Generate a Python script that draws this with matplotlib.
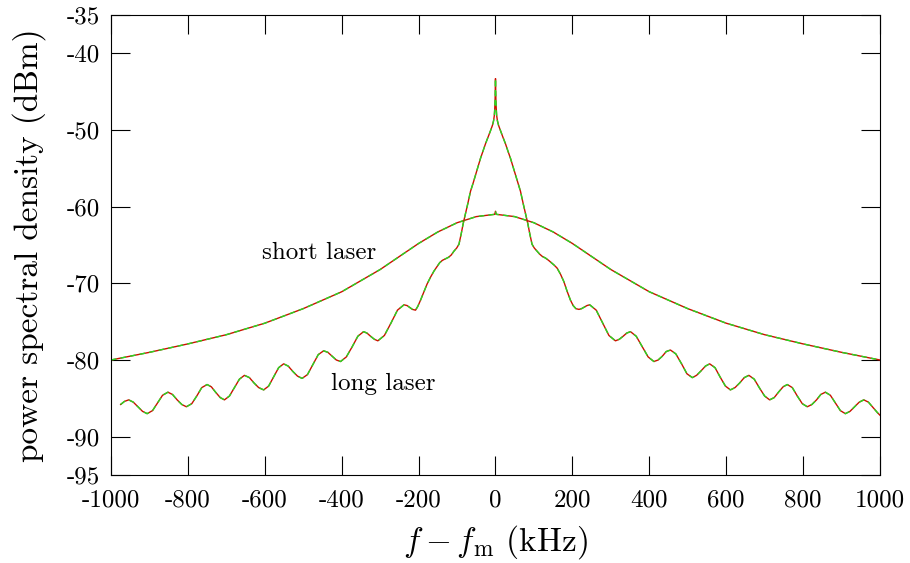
import matplotlib
matplotlib.use("Agg")
import matplotlib.pyplot as plt

plt.rcParams['font.family'] = ['cmr10', 'DejaVu Serif']
plt.rcParams['mathtext.fontset'] = 'cm'
plt.rcParams['axes.unicode_minus'] = False

# short laser: broad spectrum
short_x = [-1000, -900, -800, -700, -600, -500, -400, -300, -250, -200, -150, -100, -50, -2, 0,
           2, 50, 100, 150, 200, 250, 300, 400, 500, 600, 700, 800, 900, 1000]
short_y = [-80.0, -79.0, -77.9, -76.7, -75.2, -73.3, -71.1, -68.2, -66.5, -64.8, -63.3, -62.1, -61.3, -61.0, -60.6,
           -61.0, -61.3, -62.1, -63.3, -64.8, -66.5, -68.2, -71.1, -73.3, -75.2, -76.7, -77.9, -79.0, -80.0]

# long laser: narrow peak with side lobes (left half, centre, right half)
long_left_x = [-975, -965, -954, -942, -930, -918, -906, -892, -879, -866, -852, -840, -828, -816,
               -804, -790, -777, -764, -750, -739, -728, -716, -705, -692, -679, -666, -653, -640,
               -628, -616, -603, -590, -577, -564, -551, -539, -527, -515, -503, -489, -475, -461,
               -447, -436, -425, -414, -403, -388, -373, -358, -343, -334, -325, -315, -306, -289,
               -272, -255, -238, -230, -223, -216, -208, -202, -195, -186, -178, -169, -160, -152,
               -145, -138, -130, -122, -115, -108, -101, -95, -89, -84, -78, -72, -65, -58, -52,
               -45, -39, -32, -26, -19, -13, -8, -5, -3, -2, -1, -0.5]
long_left_y = [-85.8, -85.4, -85.2, -85.5, -86.1, -86.7, -87.0, -86.6, -85.6, -84.6, -84.2, -84.5, -85.2, -85.8,
               -86.1, -85.7, -84.7, -83.6, -83.2, -83.5, -84.2, -84.9, -85.2, -84.7, -83.6, -82.5, -82.0, -82.3,
               -83.0, -83.6, -83.9, -83.4, -82.2, -81.0, -80.5, -80.8, -81.5, -82.1, -82.4, -81.9, -80.6, -79.3,
               -78.8, -79.0, -79.5, -80.0, -80.2, -79.6, -78.3, -76.9, -76.3, -76.5, -76.9, -77.3, -77.5, -76.8,
               -75.2, -73.5, -72.8, -72.9, -73.15, -73.4, -73.5, -73.0, -72.2, -71.1, -70.1, -69.2, -68.4, -67.8,
               -67.3, -67.0, -66.8, -66.6, -66.3, -65.8, -65.4, -64.9, -63.5, -62.2, -60.9, -59.6, -58.0, -56.9, -55.9,
               -54.7, -53.7, -52.7, -51.8, -50.9, -50.1, -49.4, -48.8, -48.1, -47.3, -46.0, -44.8]
long_peak_x = [0]
long_peak_y = [-43.3]
long_right_x = [0.5, 1, 2, 3, 5, 8, 13, 19, 26, 32, 39, 45, 52, 58, 65, 72, 78, 84, 89, 95,
                101, 108, 115, 122, 130, 138, 145, 152, 160, 169, 178, 186, 195, 202, 209, 217,
                224, 231, 238, 245, 262, 279, 295, 312, 322, 332, 341, 351, 366, 382, 397, 412,
                423, 434, 444, 455, 469, 484, 498, 512, 523, 535, 546, 557, 571, 584, 598, 611,
                623, 635, 647, 659, 673, 686, 700, 713, 725, 736, 748, 759, 772, 785, 798, 811,
                823, 835, 846, 858, 871, 884, 897, 910, 922, 934, 946, 958, 970, 982, 994, 1000]
long_right_y = [-44.8, -46.0, -47.3, -48.1, -48.8, -49.4, -50.1, -50.9, -51.8, -52.7, -53.7, -54.7, -55.9, -56.9,
                -58.0, -59.6, -60.9, -62.2, -63.5, -64.9,
                -65.4, -65.8, -66.2, -66.5, -66.7, -67.0, -67.3, -67.6, -68.0, -68.8, -69.8, -71.0, -72.2, -72.9,
                -73.3, -73.4,
                -73.3, -73.1, -72.9, -72.8, -73.5, -75.2, -76.8, -77.5, -77.3, -76.9, -76.5, -76.3, -76.9, -78.3,
                -79.6, -80.2,
                -80.0, -79.5, -78.9, -78.7, -79.2, -80.5, -81.8, -82.3, -82.0, -81.4, -80.8, -80.5, -81.0, -82.2,
                -83.4, -83.9,
                -83.6, -83.0, -82.3, -82.0, -82.5, -83.6, -84.7, -85.2, -84.9, -84.2, -83.5, -83.2, -83.6, -84.7,
                -85.7, -86.1,
                -85.8, -85.2, -84.5, -84.2, -84.6, -85.6, -86.6, -87.0, -86.7, -86.1, -85.5, -85.2, -85.5, -86.2,
                -86.9, -87.2]
long_x = long_left_x + long_peak_x + long_right_x
long_y = long_left_y + long_peak_y + long_right_y

xticks = [-1000, -800, -600, -400, -200, 0, 200, 400, 600, 800, 1000]
yticks = [-95, -90, -80, -70, -60, -50, -40, -35]

fig = plt.figure(figsize=(9.1, 5.63), dpi=100)
ax = fig.add_axes([0.122, 0.1563, 0.845, 0.8171])

for xs, ys in [(short_x, short_y), (long_x, long_y)]:
    ax.plot(xs, ys, color='#cc1100', lw=1.0)
    ax.plot(xs, ys, color='#22dd22', lw=1.0, dashes=(4, 3))

ax.set_xlim(-1000, 1000)
ax.set_ylim(-95, -35)
ax.set_xticks(xticks)
ax.set_xticklabels([str(t) for t in xticks])
ax.set_yticks(yticks)
ax.set_yticklabels([str(t) for t in yticks])
ax.tick_params(direction='in', length=14, width=0.8, top=True, right=True,
               labelsize=18, pad=8)
ax.tick_params(axis='x', pad=10)

ax.text(-458, -66.0, 'short laser', fontsize=18, ha='center', va='center')
ax.text(-291, -83.1, 'long laser', fontsize=18, ha='center', va='center')

ax.set_xlabel(r'$f - f_{\mathrm{m}}$ (kHz)', fontsize=24)
ax.set_ylabel('power spectral density (dBm)', fontsize=24)
ax.xaxis.set_label_coords(0.5, -0.105)
ax.yaxis.set_label_coords(-0.085, 0.5)

plt.savefig("out.png", dpi=100)
